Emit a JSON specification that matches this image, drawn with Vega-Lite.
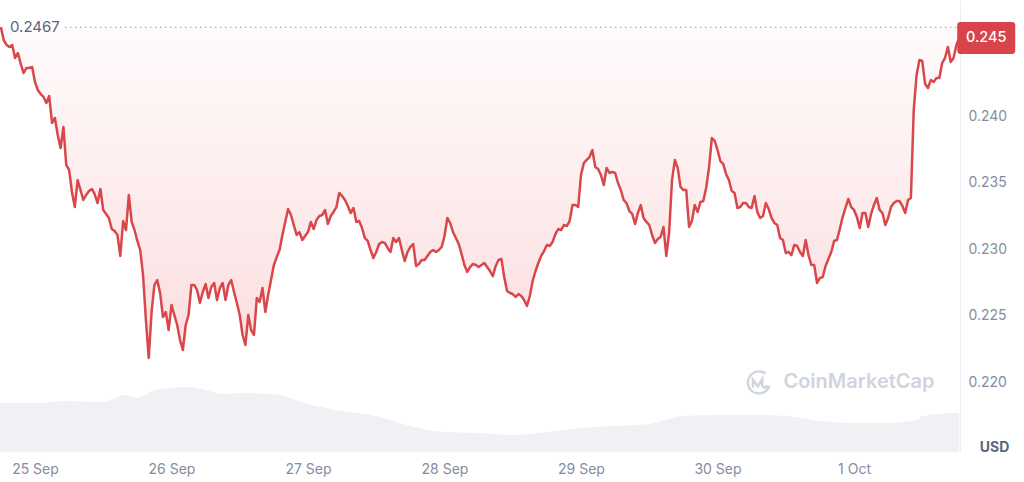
{
"$schema":"https://vega.github.io/schema/vega-lite/v6.json",
"width":960,"height":452,
"autosize":{"type":"none"},
"padding":{"left":0,"top":0,"right":64,"bottom":30},
"background":"#ffffff",
"config":{"view":{"stroke":null},"font":"Inter"},
"datasets":{
"price":[
{"t":"2023-09-24T18:00","p":0.24673},{"t":"2023-09-24T18:30","p":0.24575},{"t":"2023-09-24T19:00","p":0.24538},{"t":"2023-09-24T19:30","p":0.24523},
{"t":"2023-09-24T20:00","p":0.24538},{"t":"2023-09-24T20:30","p":0.24440},{"t":"2023-09-24T21:00","p":0.24477},{"t":"2023-09-24T21:30","p":0.24395},
{"t":"2023-09-24T22:00","p":0.24327},{"t":"2023-09-24T22:30","p":0.24365},{"t":"2023-09-24T23:00","p":0.24365},{"t":"2023-09-24T23:30","p":0.24372},
{"t":"2023-09-25T00:00","p":0.24259},{"t":"2023-09-25T00:30","p":0.24199},{"t":"2023-09-25T01:00","p":0.24169},{"t":"2023-09-25T01:30","p":0.24147},
{"t":"2023-09-25T02:00","p":0.24101},{"t":"2023-09-25T02:30","p":0.24154},{"t":"2023-09-25T03:00","p":0.23951},{"t":"2023-09-25T03:30","p":0.23989},
{"t":"2023-09-25T04:00","p":0.23861},{"t":"2023-09-25T04:30","p":0.23763},{"t":"2023-09-25T05:00","p":0.23921},{"t":"2023-09-25T05:30","p":0.23635},
{"t":"2023-09-25T06:00","p":0.23598},{"t":"2023-09-25T06:30","p":0.23432},{"t":"2023-09-25T07:00","p":0.23319},{"t":"2023-09-25T07:30","p":0.23522},
{"t":"2023-09-25T08:00","p":0.23447},{"t":"2023-09-25T08:30","p":0.23372},{"t":"2023-09-25T09:00","p":0.23410},{"t":"2023-09-25T09:30","p":0.23440},
{"t":"2023-09-25T10:00","p":0.23455},{"t":"2023-09-25T10:30","p":0.23417},{"t":"2023-09-25T11:00","p":0.23349},{"t":"2023-09-25T11:30","p":0.23455},
{"t":"2023-09-25T12:00","p":0.23297},{"t":"2023-09-25T12:30","p":0.23267},{"t":"2023-09-25T13:00","p":0.23237},{"t":"2023-09-25T13:30","p":0.23154},
{"t":"2023-09-25T14:00","p":0.23139},{"t":"2023-09-25T14:30","p":0.23109},{"t":"2023-09-25T15:00","p":0.22951},{"t":"2023-09-25T15:30","p":0.23214},
{"t":"2023-09-25T16:00","p":0.23146},{"t":"2023-09-25T16:30","p":0.23410},{"t":"2023-09-25T17:00","p":0.23207},{"t":"2023-09-25T17:30","p":0.23146},
{"t":"2023-09-25T18:00","p":0.23064},{"t":"2023-09-25T18:30","p":0.22996},{"t":"2023-09-25T19:00","p":0.22808},{"t":"2023-09-25T19:30","p":0.22470},
{"t":"2023-09-25T20:00","p":0.22184},{"t":"2023-09-25T20:30","p":0.22530},{"t":"2023-09-25T21:00","p":0.22733},{"t":"2023-09-25T21:30","p":0.22770},
{"t":"2023-09-25T22:00","p":0.22673},{"t":"2023-09-25T22:30","p":0.22492},{"t":"2023-09-25T23:00","p":0.22530},{"t":"2023-09-25T23:30","p":0.22394},
{"t":"2023-09-26T00:00","p":0.22582},{"t":"2023-09-26T00:30","p":0.22507},{"t":"2023-09-26T01:00","p":0.22432},{"t":"2023-09-26T01:30","p":0.22319},
{"t":"2023-09-26T02:00","p":0.22244},{"t":"2023-09-26T02:30","p":0.22432},{"t":"2023-09-26T03:00","p":0.22507},{"t":"2023-09-26T03:30","p":0.22733},
{"t":"2023-09-26T04:00","p":0.22733},{"t":"2023-09-26T04:30","p":0.22695},{"t":"2023-09-26T05:00","p":0.22597},{"t":"2023-09-26T05:30","p":0.22680},
{"t":"2023-09-26T06:00","p":0.22740},{"t":"2023-09-26T06:30","p":0.22635},{"t":"2023-09-26T07:00","p":0.22718},{"t":"2023-09-26T07:30","p":0.22748},
{"t":"2023-09-26T08:00","p":0.22620},{"t":"2023-09-26T08:30","p":0.22710},{"t":"2023-09-26T09:00","p":0.22748},{"t":"2023-09-26T09:30","p":0.22620},
{"t":"2023-09-26T10:00","p":0.22733},{"t":"2023-09-26T10:30","p":0.22770},{"t":"2023-09-26T11:00","p":0.22680},{"t":"2023-09-26T11:30","p":0.22597},
{"t":"2023-09-26T12:00","p":0.22507},{"t":"2023-09-26T12:30","p":0.22357},{"t":"2023-09-26T13:00","p":0.22282},{"t":"2023-09-26T13:30","p":0.22507},
{"t":"2023-09-26T14:00","p":0.22394},{"t":"2023-09-26T14:30","p":0.22357},{"t":"2023-09-26T15:00","p":0.22635},{"t":"2023-09-26T15:30","p":0.22605},
{"t":"2023-09-26T16:00","p":0.22710},{"t":"2023-09-26T16:30","p":0.22530},{"t":"2023-09-26T17:00","p":0.22658},{"t":"2023-09-26T17:30","p":0.22770},
{"t":"2023-09-26T18:00","p":0.22883},{"t":"2023-09-26T18:30","p":0.22943},{"t":"2023-09-26T19:00","p":0.22996},{"t":"2023-09-26T19:30","p":0.23109},
{"t":"2023-09-26T20:00","p":0.23207},{"t":"2023-09-26T20:30","p":0.23304},{"t":"2023-09-26T21:00","p":0.23259},{"t":"2023-09-26T21:30","p":0.23184},
{"t":"2023-09-26T22:00","p":0.23109},{"t":"2023-09-26T22:30","p":0.23131},{"t":"2023-09-26T23:00","p":0.23071},{"t":"2023-09-26T23:30","p":0.23101},
{"t":"2023-09-27T00:00","p":0.23131},{"t":"2023-09-27T00:30","p":0.23207},{"t":"2023-09-27T01:00","p":0.23154},{"t":"2023-09-27T01:30","p":0.23222},
{"t":"2023-09-27T02:00","p":0.23252},{"t":"2023-09-27T02:30","p":0.23259},{"t":"2023-09-27T03:00","p":0.23297},{"t":"2023-09-27T03:30","p":0.23192},
{"t":"2023-09-27T04:00","p":0.23252},{"t":"2023-09-27T04:30","p":0.23282},{"t":"2023-09-27T05:00","p":0.23319},{"t":"2023-09-27T05:30","p":0.23425},
{"t":"2023-09-27T06:00","p":0.23402},{"t":"2023-09-27T06:30","p":0.23372},{"t":"2023-09-27T07:00","p":0.23327},{"t":"2023-09-27T07:30","p":0.23274},
{"t":"2023-09-27T08:00","p":0.23312},{"t":"2023-09-27T08:30","p":0.23207},{"t":"2023-09-27T09:00","p":0.23214},{"t":"2023-09-27T09:30","p":0.23161},
{"t":"2023-09-27T10:00","p":0.23086},{"t":"2023-09-27T10:30","p":0.23064},{"t":"2023-09-27T11:00","p":0.22996},{"t":"2023-09-27T11:30","p":0.22936},
{"t":"2023-09-27T12:00","p":0.22981},{"t":"2023-09-27T12:30","p":0.23041},{"t":"2023-09-27T13:00","p":0.23056},{"t":"2023-09-27T13:30","p":0.23049},
{"t":"2023-09-27T14:00","p":0.23011},{"t":"2023-09-27T14:30","p":0.22981},{"t":"2023-09-27T15:00","p":0.23086},{"t":"2023-09-27T15:30","p":0.23056},
{"t":"2023-09-27T16:00","p":0.23086},{"t":"2023-09-27T16:30","p":0.22996},{"t":"2023-09-27T17:00","p":0.22913},{"t":"2023-09-27T17:30","p":0.22981},
{"t":"2023-09-27T18:00","p":0.23019},{"t":"2023-09-27T18:30","p":0.23041},{"t":"2023-09-27T19:00","p":0.22876},{"t":"2023-09-27T19:30","p":0.22891},
{"t":"2023-09-27T20:00","p":0.22921},{"t":"2023-09-27T20:30","p":0.22921},{"t":"2023-09-27T21:00","p":0.22951},{"t":"2023-09-27T21:30","p":0.22981},
{"t":"2023-09-27T22:00","p":0.22996},{"t":"2023-09-27T22:30","p":0.22981},{"t":"2023-09-27T23:00","p":0.22996},{"t":"2023-09-27T23:30","p":0.23019},
{"t":"2023-09-28T00:00","p":0.23101},{"t":"2023-09-28T00:30","p":0.23237},{"t":"2023-09-28T01:00","p":0.23199},{"t":"2023-09-28T01:30","p":0.23131},
{"t":"2023-09-28T02:00","p":0.23086},{"t":"2023-09-28T02:30","p":0.23041},{"t":"2023-09-28T03:00","p":0.22966},{"t":"2023-09-28T03:30","p":0.22883},
{"t":"2023-09-28T04:00","p":0.22831},{"t":"2023-09-28T04:30","p":0.22868},{"t":"2023-09-28T05:00","p":0.22891},{"t":"2023-09-28T05:30","p":0.22883},
{"t":"2023-09-28T06:00","p":0.22868},{"t":"2023-09-28T06:30","p":0.22883},{"t":"2023-09-28T07:00","p":0.22898},{"t":"2023-09-28T07:30","p":0.22868},
{"t":"2023-09-28T08:00","p":0.22838},{"t":"2023-09-28T08:30","p":0.22800},{"t":"2023-09-28T09:00","p":0.22876},{"t":"2023-09-28T09:30","p":0.22921},
{"t":"2023-09-28T10:00","p":0.22928},{"t":"2023-09-28T10:30","p":0.22793},{"t":"2023-09-28T11:00","p":0.22688},{"t":"2023-09-28T11:30","p":0.22673},
{"t":"2023-09-28T12:00","p":0.22665},{"t":"2023-09-28T12:30","p":0.22643},{"t":"2023-09-28T13:00","p":0.22665},{"t":"2023-09-28T13:30","p":0.22650},
{"t":"2023-09-28T14:00","p":0.22620},{"t":"2023-09-28T14:30","p":0.22575},{"t":"2023-09-28T15:00","p":0.22650},{"t":"2023-09-28T15:30","p":0.22763},
{"t":"2023-09-28T16:00","p":0.22838},{"t":"2023-09-28T16:30","p":0.22898},{"t":"2023-09-28T17:00","p":0.22951},{"t":"2023-09-28T17:30","p":0.22988},
{"t":"2023-09-28T18:00","p":0.23034},{"t":"2023-09-28T18:30","p":0.23026},{"t":"2023-09-28T19:00","p":0.23056},{"t":"2023-09-28T19:30","p":0.23116},
{"t":"2023-09-28T20:00","p":0.23154},{"t":"2023-09-28T20:30","p":0.23146},{"t":"2023-09-28T21:00","p":0.23184},{"t":"2023-09-28T21:30","p":0.23176},
{"t":"2023-09-28T22:00","p":0.23214},{"t":"2023-09-28T22:30","p":0.23334},{"t":"2023-09-28T23:00","p":0.23334},{"t":"2023-09-28T23:30","p":0.23319},
{"t":"2023-09-29T00:00","p":0.23560},{"t":"2023-09-29T00:30","p":0.23650},{"t":"2023-09-29T01:00","p":0.23673},{"t":"2023-09-29T01:30","p":0.23695},
{"t":"2023-09-29T02:00","p":0.23748},{"t":"2023-09-29T02:30","p":0.23620},{"t":"2023-09-29T03:00","p":0.23605},{"t":"2023-09-29T03:30","p":0.23560},
{"t":"2023-09-29T04:00","p":0.23485},{"t":"2023-09-29T04:30","p":0.23613},{"t":"2023-09-29T05:00","p":0.23575},{"t":"2023-09-29T05:30","p":0.23583},
{"t":"2023-09-29T06:00","p":0.23575},{"t":"2023-09-29T06:30","p":0.23500},{"t":"2023-09-29T07:00","p":0.23447},{"t":"2023-09-29T07:30","p":0.23372},
{"t":"2023-09-29T08:00","p":0.23349},{"t":"2023-09-29T08:30","p":0.23289},{"t":"2023-09-29T09:00","p":0.23267},{"t":"2023-09-29T09:30","p":0.23192},
{"t":"2023-09-29T10:00","p":0.23274},{"t":"2023-09-29T10:30","p":0.23334},{"t":"2023-09-29T11:00","p":0.23237},{"t":"2023-09-29T11:30","p":0.23207},
{"t":"2023-09-29T12:00","p":0.23184},{"t":"2023-09-29T12:30","p":0.23109},{"t":"2023-09-29T13:00","p":0.23049},{"t":"2023-09-29T13:30","p":0.23079},
{"t":"2023-09-29T14:00","p":0.23094},{"t":"2023-09-29T14:30","p":0.23169},{"t":"2023-09-29T15:00","p":0.22951},{"t":"2023-09-29T15:30","p":0.23131},
{"t":"2023-09-29T16:00","p":0.23522},{"t":"2023-09-29T16:30","p":0.23673},{"t":"2023-09-29T17:00","p":0.23613},{"t":"2023-09-29T17:30","p":0.23470},
{"t":"2023-09-29T18:00","p":0.23447},{"t":"2023-09-29T18:30","p":0.23447},{"t":"2023-09-29T19:00","p":0.23169},{"t":"2023-09-29T19:30","p":0.23214},
{"t":"2023-09-29T20:00","p":0.23334},{"t":"2023-09-29T20:30","p":0.23282},{"t":"2023-09-29T21:00","p":0.23357},{"t":"2023-09-29T21:30","p":0.23364},
{"t":"2023-09-29T22:00","p":0.23462},{"t":"2023-09-29T22:30","p":0.23613},{"t":"2023-09-29T23:00","p":0.23838},{"t":"2023-09-29T23:30","p":0.23816},
{"t":"2023-09-30T00:00","p":0.23748},{"t":"2023-09-30T00:30","p":0.23665},{"t":"2023-09-30T01:00","p":0.23643},{"t":"2023-09-30T01:30","p":0.23568},
{"t":"2023-09-30T02:00","p":0.23522},{"t":"2023-09-30T02:30","p":0.23440},{"t":"2023-09-30T03:00","p":0.23425},{"t":"2023-09-30T03:30","p":0.23312},
{"t":"2023-09-30T04:00","p":0.23319},{"t":"2023-09-30T04:30","p":0.23349},{"t":"2023-09-30T05:00","p":0.23349},{"t":"2023-09-30T05:30","p":0.23319},
{"t":"2023-09-30T06:00","p":0.23312},{"t":"2023-09-30T06:30","p":0.23402},{"t":"2023-09-30T07:00","p":0.23282},{"t":"2023-09-30T07:30","p":0.23237},
{"t":"2023-09-30T08:00","p":0.23252},{"t":"2023-09-30T08:30","p":0.23349},{"t":"2023-09-30T09:00","p":0.23304},{"t":"2023-09-30T09:30","p":0.23237},
{"t":"2023-09-30T10:00","p":0.23199},{"t":"2023-09-30T10:30","p":0.23184},{"t":"2023-09-30T11:00","p":0.23086},{"t":"2023-09-30T11:30","p":0.23071},
{"t":"2023-09-30T12:00","p":0.22973},{"t":"2023-09-30T12:30","p":0.22981},{"t":"2023-09-30T13:00","p":0.22958},{"t":"2023-09-30T13:30","p":0.23034},
{"t":"2023-09-30T14:00","p":0.23026},{"t":"2023-09-30T14:30","p":0.22981},{"t":"2023-09-30T15:00","p":0.22951},{"t":"2023-09-30T15:30","p":0.23071},
{"t":"2023-09-30T16:00","p":0.22958},{"t":"2023-09-30T16:30","p":0.22883},{"t":"2023-09-30T17:00","p":0.22883},{"t":"2023-09-30T17:30","p":0.22748},
{"t":"2023-09-30T18:00","p":0.22785},{"t":"2023-09-30T18:30","p":0.22793},{"t":"2023-09-30T19:00","p":0.22876},{"t":"2023-09-30T19:30","p":0.22928},
{"t":"2023-09-30T20:00","p":0.22981},{"t":"2023-09-30T20:30","p":0.23064},{"t":"2023-09-30T21:00","p":0.23071},{"t":"2023-09-30T21:30","p":0.23154},
{"t":"2023-09-30T22:00","p":0.23244},{"t":"2023-09-30T22:30","p":0.23312},{"t":"2023-09-30T23:00","p":0.23380},{"t":"2023-09-30T23:30","p":0.23319},
{"t":"2023-10-01T00:00","p":0.23297},{"t":"2023-10-01T00:30","p":0.23244},{"t":"2023-10-01T01:00","p":0.23161},{"t":"2023-10-01T01:30","p":0.23274},
{"t":"2023-10-01T02:00","p":0.23274},{"t":"2023-10-01T02:30","p":0.23169},{"t":"2023-10-01T03:00","p":0.23267},{"t":"2023-10-01T03:30","p":0.23334},
{"t":"2023-10-01T04:00","p":0.23387},{"t":"2023-10-01T04:30","p":0.23297},{"t":"2023-10-01T05:00","p":0.23274},{"t":"2023-10-01T05:30","p":0.23184},
{"t":"2023-10-01T06:00","p":0.23237},{"t":"2023-10-01T06:30","p":0.23319},{"t":"2023-10-01T07:00","p":0.23349},{"t":"2023-10-01T07:30","p":0.23364},
{"t":"2023-10-01T08:00","p":0.23364},{"t":"2023-10-01T08:30","p":0.23327},{"t":"2023-10-01T09:00","p":0.23274},{"t":"2023-10-01T09:30","p":0.23372},
{"t":"2023-10-01T10:00","p":0.23387},{"t":"2023-10-01T10:30","p":0.24049},{"t":"2023-10-01T11:00","p":0.24312},{"t":"2023-10-01T11:30","p":0.24425},
{"t":"2023-10-01T12:00","p":0.24417},{"t":"2023-10-01T12:30","p":0.24244},{"t":"2023-10-01T13:00","p":0.24214},{"t":"2023-10-01T13:30","p":0.24274},
{"t":"2023-10-01T14:00","p":0.24259},{"t":"2023-10-01T14:30","p":0.24289},{"t":"2023-10-01T15:00","p":0.24289},{"t":"2023-10-01T15:30","p":0.24402},
{"t":"2023-10-01T16:00","p":0.24440},{"t":"2023-10-01T16:30","p":0.24523},{"t":"2023-10-01T17:00","p":0.24410},{"t":"2023-10-01T17:30","p":0.24440},
{"t":"2023-10-01T18:00","p":0.24538},{"t":"2023-10-01T18:30","p":0.24590}
],
"volume":[
{"t":"2023-09-24T17:51","v":196},{"t":"2023-09-25T00:00","v":196},{"t":"2023-09-25T06:00","v":204},{"t":"2023-09-25T12:00","v":200},
{"t":"2023-09-25T16:00","v":228},{"t":"2023-09-25T18:00","v":216},{"t":"2023-09-25T21:00","v":248},{"t":"2023-09-26T00:00","v":256},
{"t":"2023-09-26T03:00","v":260},{"t":"2023-09-26T06:00","v":248},{"t":"2023-09-26T09:00","v":232},{"t":"2023-09-26T12:00","v":236},
{"t":"2023-09-26T18:00","v":232},{"t":"2023-09-27T00:00","v":192},{"t":"2023-09-27T06:00","v":164},{"t":"2023-09-27T12:00","v":144},
{"t":"2023-09-27T18:00","v":104},{"t":"2023-09-28T00:00","v":80},{"t":"2023-09-28T06:00","v":76},{"t":"2023-09-28T12:00","v":68},
{"t":"2023-09-28T18:00","v":80},{"t":"2023-09-29T00:00","v":96},{"t":"2023-09-29T06:00","v":104},{"t":"2023-09-29T12:00","v":112},
{"t":"2023-09-29T18:00","v":144},{"t":"2023-09-30T00:00","v":148},{"t":"2023-09-30T06:00","v":148},{"t":"2023-09-30T12:00","v":144},
{"t":"2023-09-30T18:00","v":124},{"t":"2023-10-01T00:00","v":116},{"t":"2023-10-01T06:00","v":116},{"t":"2023-10-01T11:00","v":128},
{"t":"2023-10-01T12:00","v":144},{"t":"2023-10-01T18:00","v":156},{"t":"2023-10-01T18:30","v":156}
],
"ref":[{"t":"2023-09-24T17:51","t2":"2023-10-01T18:38","start":"2023-09-25T05:16","p":0.2467,"label":"0.2467"}],
"last":[{"t":"2023-10-01T18:30","p":0.2459,"label":"0.245"}],
"wm":[{"t":"2023-10-01T00:52","p":0.2200,"label":"CoinMarketCap"}]
},
"encoding":{
"x":{"field":"t","type":"temporal",
"scale":{"domain":[{"year":2023,"month":"sep","date":24,"hours":17,"minutes":51},{"year":2023,"month":"oct","date":1,"hours":18,"minutes":38}]},
"axis":{"title":null,"format":"%-d %b","tickCount":{"interval":"day","step":1},"grid":false,"ticks":false,"domain":false,"labelPadding":10,"labelFontSize":14,"labelColor":"#858ca0","labelFont":"Inter"}}
},
"layer":[
{"data":{"name":"volume"},
 "mark":{"type":"area","color":"#eff1f5","interpolate":"monotone"},
 "encoding":{"y":{"field":"v","type":"quantitative","scale":{"domain":[0,1808]},"axis":null}}},
{"layer":[
 {"data":{"name":"price"},
  "mark":{"type":"area","color":{"gradient":"linear","x1":0,"y1":0,"x2":0,"y2":1,"stops":[{"offset":0,"color":"rgba(234,57,67,0.02)"},{"offset":1,"color":"rgba(234,57,67,0.17)"}]}},
  "encoding":{
   "y":{"field":"p","type":"quantitative","scale":{"domain":[0.21477,0.24876],"nice":false,"zero":false},
     "axis":{"orient":"right","title":"USD","titleAngle":0,"titleX":34,"titleY":447,"titleAlign":"center","titleBaseline":"middle","titleFontSize":14,"titleFontWeight":700,"titleColor":"#58667e","titleFont":"Inter",
       "values":[0.22,0.225,0.23,0.235,0.24,0.245],"labelExpr":"datum.value > 0.2445 ? '' : format(datum.value, '.3f')",
       "ticks":false,"labelPadding":8,"labelFontSize":14,"labelColor":"#858ca0","labelFont":"Inter",
       "gridColor":"#eef0f3","gridWidth":1,"domainColor":"#eceef2","domainWidth":1}},
   "y2":{"datum":0.2467}}},
 {"data":{"name":"price"},
  "mark":{"type":"line","color":"#d9474b","strokeWidth":2.5,"strokeJoin":"round"},
  "encoding":{"y":{"field":"p","type":"quantitative"}}},
 {"data":{"name":"ref"},
  "mark":{"type":"rule","color":"#a6acbb","strokeWidth":1.2,"strokeDash":[1.5,3.5]},
  "encoding":{"x":{"field":"start","type":"temporal"},"x2":{"field":"t2"},"y":{"field":"p","type":"quantitative"}}},
 {"data":{"name":"ref"},
  "mark":{"type":"text","align":"left","baseline":"middle","dx":10,"fontSize":15,"color":"#58667e","font":"Inter"},
  "encoding":{"y":{"field":"p","type":"quantitative"},"text":{"field":"label"}}},
 {"data":{"name":"wm"},
  "mark":{"type":"point","shape":"M0.95,0.3 A1,1 0 1 1 0.6,-0.8 M-0.55,0.45 L-0.55,-0.25 L-0.1,0.35 L0.3,-0.3 L0.3,0.3 Q0.45,0.6 0.8,0.3","filled":false,"stroke":"#cfd4de","strokeWidth":2.5,"size":484,"xOffset":-100,"opacity":1},
  "encoding":{"y":{"field":"p","type":"quantitative"}}},
 {"data":{"name":"wm"},
  "mark":{"type":"text","align":"center","baseline":"middle","fontSize":20,"fontWeight":600,"color":"#cfd4de","font":"Inter"},
  "encoding":{"y":{"field":"p","type":"quantitative"},"text":{"field":"label"}}},
 {"data":{"name":"last"},
  "mark":{"type":"point","shape":"M-0.9,-0.55H0.9A0.1,0.1,0,0,1,1,-0.45V0.45A0.1,0.1,0,0,1,0.9,0.55H-0.9A0.1,0.1,0,0,1,-1,0.45V-0.45A0.1,0.1,0,0,1,-0.9,-0.55Z","filled":true,"color":"#d9434a","opacity":1,"size":3364,"xOffset":27},
  "encoding":{"y":{"field":"p","type":"quantitative"}}},
 {"data":{"name":"last"},
  "mark":{"type":"text","align":"center","baseline":"middle","dx":27,"fontSize":14.5,"fontWeight":500,"color":"#ffffff","font":"Inter"},
  "encoding":{"y":{"field":"p","type":"quantitative"},"text":{"field":"label"}}}
 ]}
],
"resolve":{"scale":{"y":"independent"}}
}
